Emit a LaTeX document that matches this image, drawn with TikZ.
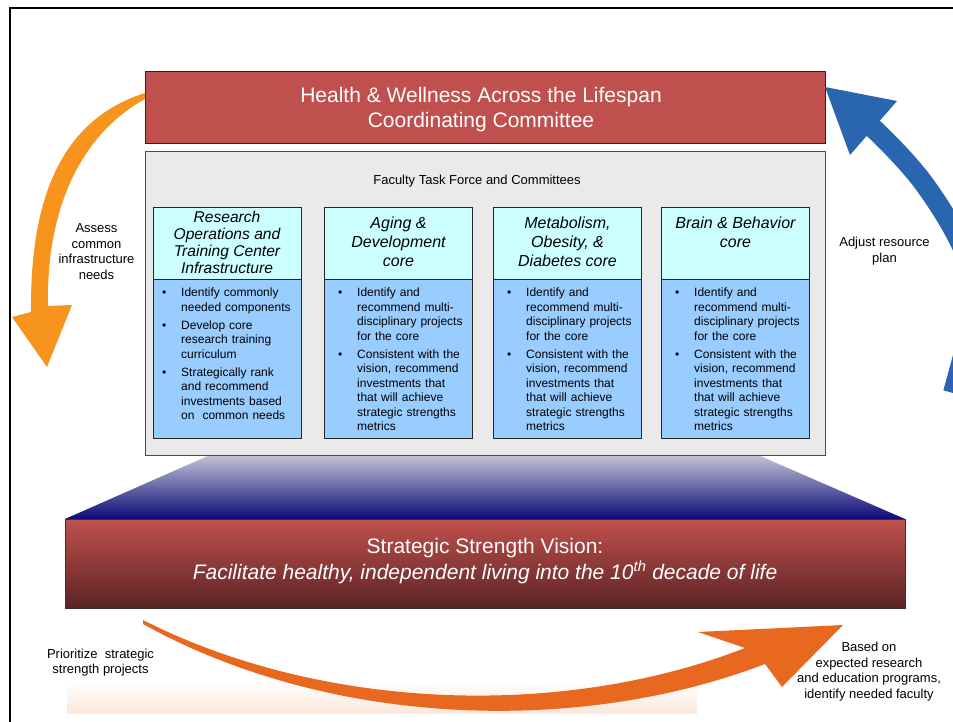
\documentclass[tikz,border=0pt]{standalone}
\usepackage{fontspec}
\setmainfont{Liberation Sans}
\definecolor{redbox}{RGB}{192,80,77}
\definecolor{darkred}{RGB}{90,36,36}
\definecolor{grayfill}{RGB}{234,234,234}
\definecolor{hdrfill}{RGB}{204,255,255}
\definecolor{bodyfill}{RGB}{153,204,255}
\definecolor{orangeA}{RGB}{247,148,30}
\definecolor{orangeB}{RGB}{232,104,32}
\definecolor{blueA}{RGB}{42,102,176}
\definecolor{navy}{RGB}{10,10,120}
\definecolor{lav}{RGB}{196,196,214}
\definecolor{peach}{RGB}{252,232,218}
\newcommand{\bul}{\par\noindent\llap{\makebox[19pt][l]{\textbullet}}}
\newcommand{\gap}{\par\vspace{3.5pt}}
\begin{document}
\begin{tikzpicture}[x=1pt,y=-1pt,
  boxbase/.style={draw=black!85, line width=0.8pt, inner sep=0pt, anchor=north west},
  hdrbox/.style={boxbase, fill=hdrfill, minimum width=148pt, minimum height=72pt},
  bodybox/.style={boxbase, fill=bodyfill, minimum width=148pt, minimum height=159pt},
  hdrtxt/.style={align=center, inner sep=0pt, font=\itshape\fontsize{16}{19}\selectfont},
  bodytxt/.style={anchor=north west, inner sep=0pt, text width=121pt, font=\fontsize{12}{14.5}\selectfont},
  lbl/.style={align=center, inner sep=0pt, font=\fontsize{13}{15.7}\selectfont},
  bigtxt/.style={align=center, inner sep=0pt, text=white, font=\fontsize{21}{25.5}\selectfont}]
\useasboundingbox (0,0) rectangle (953,722);
\fill[white] (0,0) rectangle (953,722);
% frame
\draw[line width=2.5pt] (10,723) -- (10,8) -- (954,8);
% peach reflection band
\shade[top color=white, bottom color=peach] (67,680) rectangle (697,713);
% trapezoid
\shade[top color=lav, bottom color=navy] (210,455) -- (758,455) -- (905,519) -- (65,519) -- cycle;
% top committee box
\node[boxbase, fill=redbox, minimum width=680pt, minimum height=72pt] (top) at (145,71) {};
\node[bigtxt] (toptxt) at (481,109.5) {Health \& Wellness Across the Lifespan\\Coordinating Committee};
% gray box
\node[boxbase, draw=black!70, fill=grayfill, minimum width=680pt, minimum height=304pt] (gray) at (145,151) {};
\node[lbl] (ftf) at (477,181.5) {Faculty Task Force and Committees};
% columns
\node[hdrbox] (h1) at (153,207) {};
\node[hdrbox] (h2) at (324,207) {};
\node[hdrbox] (h3) at (493,207) {};
\node[hdrbox] (h4) at (661,207) {};
\node[bodybox] (b1) at (153,279) {};
\node[bodybox] (b2) at (324,279) {};
\node[bodybox] (b3) at (493,279) {};
\node[bodybox] (b4) at (661,279) {};
\node[hdrtxt, font=\itshape\fontsize{15.6}{17}\selectfont] (t1) at (227,242.5) {Research\\Operations and\\Training Center\\Infrastructure};
\node[hdrtxt] (t2) at (398.5,241.5) {Aging \&\\Development\\core};
\node[hdrtxt] (t3) at (567.5,241.5) {Metabolism,\\Obesity, \&\\Diabetes core};
\node[hdrtxt] (t4) at (735.5,232) {Brain \& Behavior\\core};
\node[bodytxt] (x1) at (181,282) {\bul Identify commonly\\needed components\gap\bul Develop core\\research training\\curriculum\gap\bul Strategically rank\\and recommend\\investments based\\on~ common needs};
\node[bodytxt] (x2) at (357,282) {\bul Identify and\\recommend multi-\\disciplinary projects\\for the core\gap\bul Consistent with the\\vision, recommend\\investments that\\that will achieve\\strategic strengths\\metrics};
\node[bodytxt] (x3) at (526,282) {\bul Identify and\\recommend multi-\\disciplinary projects\\for the core\gap\bul Consistent with the\\vision, recommend\\investments that\\that will achieve\\strategic strengths\\metrics};
\node[bodytxt] (x4) at (694,282) {\bul Identify and\\recommend multi-\\disciplinary projects\\for the core\gap\bul Consistent with the\\vision, recommend\\investments that\\that will achieve\\strategic strengths\\metrics};
% vision box
\node[boxbase, draw=black!80, top color=redbox, bottom color=darkred, minimum width=840pt, minimum height=89pt] (vis) at (65,519) {};
\node[bigtxt] (vistxt) at (485,561) {Strategic Strength Vision:\\\textit{Facilitate healthy, independent living into the 10\textsuperscript{th} decade of life}};
% left orange arrow
\fill[orangeA] (145,93) .. controls (60,120) and (30,200) .. (31,312) -- (12,317) -- (47,367) -- (72,305) -- (48,306) .. controls (46,210) and (80,135) .. (145,99) -- cycle;
% right blue arrow
\draw[blueA, line width=20pt] plot[smooth, tension=0.7] coordinates {(873,128) (925,185) (968,260) (975,310) (962,360) (953,393)};
\fill[blueA] (825,87) -- (897,101) -- (850,155) -- cycle;
% bottom orange arrow
\fill[orangeB] (143,620) .. controls (320,710) and (560,720) .. (745,648) -- (698,632) -- (843,625) -- (782,687) -- (765,664) .. controls (580,735) and (330,728) .. (143,624) -- cycle;
% labels
\node[lbl] (l1) at (96.5,251.5) {Assess\\common\\infrastructure\\needs};
\node[lbl] (l2) at (884.5,251) {Adjust resource\\plan};
\node[lbl] (l3) at (100.5,662.5) {Prioritize~ strategic\\strength projects};
\node[lbl] (l4) at (869,671.5) {Based on\\expected research\\and education programs,\\identify needed faculty};
\end{tikzpicture}
\end{document}
